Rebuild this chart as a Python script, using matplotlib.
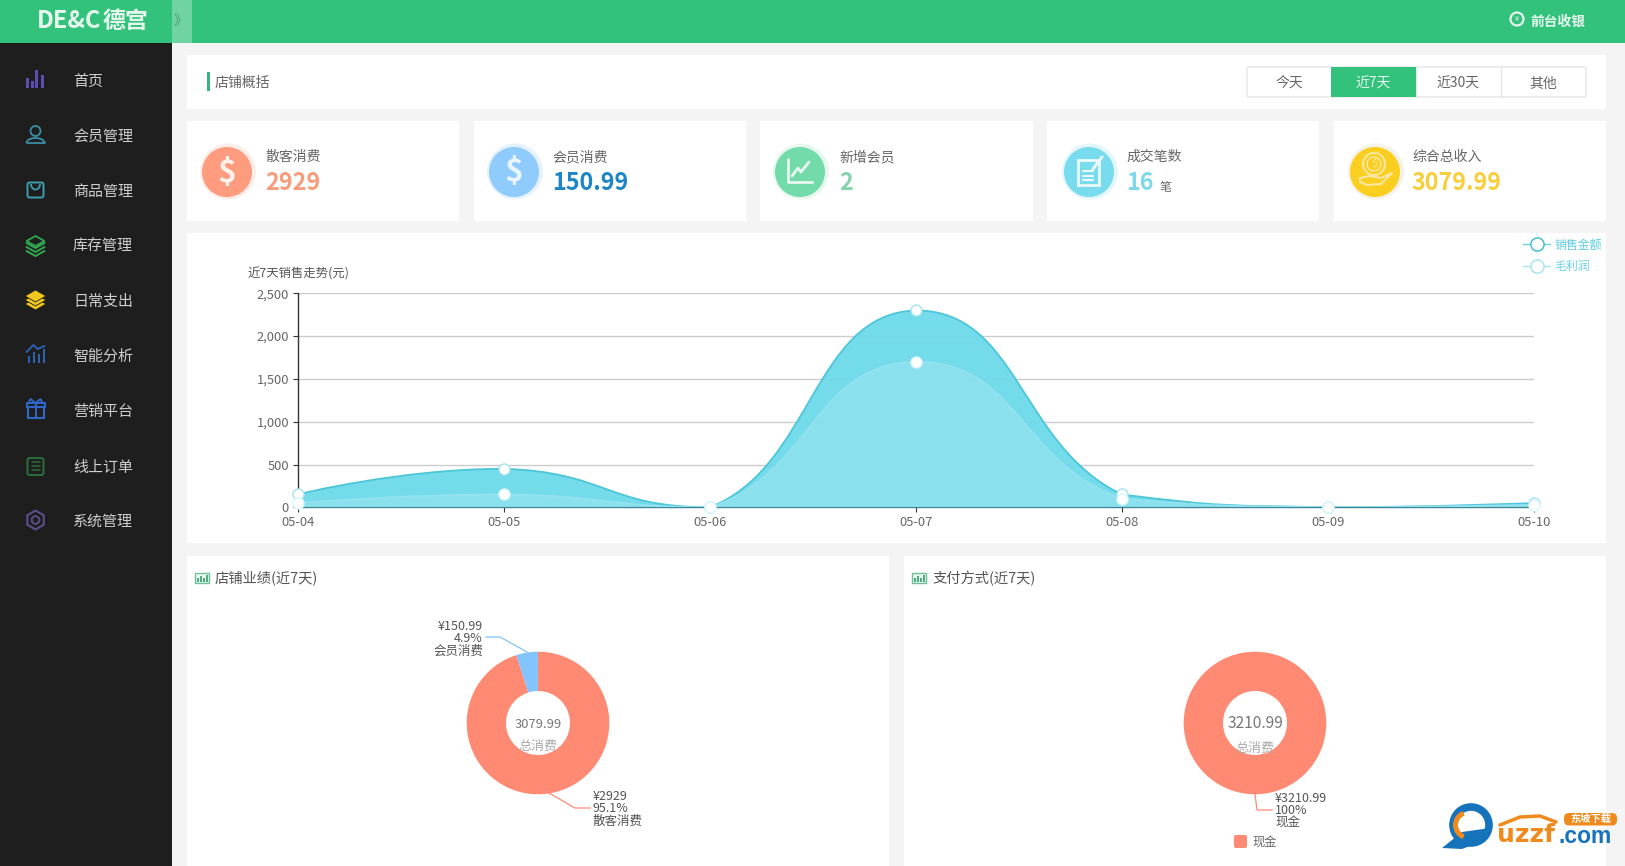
import numpy as np
import matplotlib
matplotlib.use("Agg")
import matplotlib.pyplot as plt
from matplotlib.patches import Rectangle, Circle, FancyBboxPatch, PathPatch, Polygon, Wedge, Arc
from matplotlib.path import Path
from matplotlib.lines import Line2D
from matplotlib.ticker import FuncFormatter

plt.rcParams['font.family'] = ['Noto Sans CJK SC', 'DejaVu Sans']

# ---------- data ----------
dates = ['05-04', '05-05', '05-06', '05-07', '05-08', '05-09', '05-10']
sales = [150, 450, 0, 2300, 150, 0, 50]
profit = [50, 150, 0, 1700, 100, 0, 30]
series_names = ['销售金额', '毛利润']
y_ticks = [0, 500, 1000, 1500, 2000, 2500]

nav_items = ['首页', '会员管理', '商品管理', '库存管理', '日常支出', '智能分析', '营销平台', '线上订单', '系统管理']
period_tabs = ['今天', '近7天', '近30天', '其他']

card_labels = ['散客消费', '会员消费', '新增会员', '成交笔数', '综合总收入']
card_values = ['2929', '150.99', '2', '16', '3079.99']

store_names = ['散客消费', '会员消费']
store_values = [2929, 150.99]
store_pct = ['95.1%', '4.9%']
store_total = '3079.99'

pay_names = ['现金']
pay_values = [3210.99]
pay_pct = ['100%']
pay_total = '3210.99'

# ---------- figure ----------
W, H = 1625, 866
fig = plt.figure(figsize=(W / 100, H / 100), dpi=100, facecolor='#F4F4F4')


def px_axes(l, t, r, b, **kw):
    return fig.add_axes([l / W, 1 - b / H, (r - l) / W, (b - t) / H], **kw)


bg = px_axes(0, 0, W, H, zorder=0)
bg.set_xlim(0, W); bg.set_ylim(H, 0); bg.axis('off')
fg = px_axes(0, 0, W, H, zorder=10)
fg.set_xlim(0, W); fg.set_ylim(H, 0); fg.axis('off'); fg.patch.set_alpha(0)

GREEN = '#32C27B'


def T(x, y, s, size=10, color='#555555', ha='left', va='center', weight='normal', ax=fg, **kw):
    return ax.text(x, y, s, fontsize=size, color=color, ha=ha, va=va, fontweight=weight, **kw)


def R(x0, y0, x1, y1, c, ax=bg, z=1, **kw):
    ax.add_patch(Rectangle((x0, y0), x1 - x0, y1 - y0, facecolor=c, edgecolor='none', zorder=z, **kw))


# chrome
R(0, 0, W, 43, GREEN)
R(0, 43, 172, H, '#1E1E1E')
R(172, 0, 192, 43, '#6FD3A2', z=2)
T(180, 21, '》', size=10, color='#4E9E78', ha='center', ax=bg, zorder=3)
T(37, 21, 'DE&C', size=17, color='#E6F7EE', weight='bold', ax=bg, zorder=3)
T(103, 21, '德宫', size=16.5, color='#E6F7EE', weight='bold', ax=bg, zorder=3)

# header right
bg.add_patch(Circle((1517, 19), 6.5, facecolor='none', edgecolor='#E6F7EE', lw=1.6, zorder=3))
T(1517, 19, '¥', size=5.5, color='#E6F7EE', ha='center', ax=bg, zorder=3)
T(1530, 22, '前台收银', size=9.9, color='#E6F7EE', weight='bold', ax=bg, zorder=3)

# panels
R(187, 55, 1606, 109, 'white')
for x0, x1 in [(187, 459), (474, 746), (760, 1033), (1047, 1319), (1334, 1606)]:
    R(x0, 121, x1, 221, 'white')
R(187, 233, 1606, 543, 'white')
R(187, 556, 889, 866, 'white')
R(904, 556, 1606, 866, 'white')

# overview bar
R(207, 72, 210, 91, '#36B37E', z=2)
T(215, 83, '店铺概括', size=10, color='#666666', ax=bg, zorder=3)

# tabs
tab_x = [1247, 1331, 1416, 1501, 1586]
bg.add_patch(FancyBboxPatch((1247, 67), 339, 30, boxstyle='round,pad=0,rounding_size=2', facecolor='white', edgecolor='#E6E6E6', lw=1, zorder=2))
for i, name in enumerate(period_tabs):
    x0, x1 = tab_x[i], tab_x[i + 1]
    active = i == 1
    if active:
        R(x0, 67, x1, 97, GREEN, z=3)
    elif i > 1:
        bg.plot([x0, x0], [67, 97], color='#E6E6E6', lw=1, zorder=2)
    T((x0 + x1) / 2, 83.5, name, size=10, color='#EAF9F1' if active else '#666666', ha='center', ax=bg, zorder=4)

# sidebar text
nav_y = [82, 137, 192, 247, 302, 357, 412, 468, 522]
for y, name in zip(nav_y, nav_items):
    T(73, y, name, size=10.8, color='#CFCFCF', ax=bg, zorder=3)


def line(pts, c, lw=1.4, ax=bg, z=4):
    xs, ys = zip(*pts)
    ax.plot(xs, ys, color=c, lw=lw, zorder=z, solid_capstyle='round')


# sidebar icons
cx = 35.5
for dx, h in [(-8, 10), (-3, 7), (1, 18), (7, 13)]:
    R(cx + dx - 1.6, 88 - h, cx + dx + 1.6, 88, '#5E4DB2', z=4)
c = '#3A8FA6'
bg.add_patch(Circle((cx, 131), 5, fc='none', ec=c, lw=1.3, zorder=4))
bg.add_patch(Arc((cx, 143), 18, 10, theta1=180, theta2=360, ec=c, lw=1.3, zorder=4))
line([(cx - 9, 143), (cx + 9, 143)], c, 1.3)
c = '#3F9DB0'
bg.add_patch(FancyBboxPatch((cx - 7.5, 183), 15, 14, boxstyle='round,pad=0.5,rounding_size=2', fc='none', ec=c, lw=1.4, zorder=4))
bg.add_patch(Arc((cx, 184), 9, 11, theta1=0, theta2=180, ec=c, lw=1.3, zorder=4))
c = '#2FA84F'
for dy in [0, 4, 8]:
    line([(cx - 9, 243 + dy), (cx, 248 + dy), (cx + 9, 243 + dy)], c, 1.4)
bg.add_patch(Polygon([(cx - 9, 241), (cx, 236), (cx + 9, 241), (cx, 246)], closed=True, fc='none', ec=c, lw=1.3, zorder=4))
c = '#F2C81E'
for dy in [8, 4, 0]:
    bg.add_patch(Polygon([(cx - 10.5, 296 + dy), (cx, 290 + dy), (cx + 10.5, 296 + dy), (cx, 302 + dy)], closed=True, fc=c, ec='#1E1E1E', lw=0.6, zorder=4))
c = '#2C62B0'
for dx, h in [(-7, 7), (-2, 11), (3, 9), (8, 14)]:
    R(cx + dx - 1, 363 - h, cx + dx + 1, 363, c, z=4)
line([(cx - 9, 352), (cx - 2, 345), (cx + 2, 349), (cx + 9, 346)], c, 1.4)
c = '#2F66C4'
bg.add_patch(Rectangle((cx - 8, 407), 16, 11, fc='none', ec=c, lw=1.5, zorder=4))
bg.add_patch(Rectangle((cx - 9, 403), 18, 4, fc='none', ec=c, lw=1.5, zorder=4))
line([(cx, 403), (cx, 418)], c)
line([(cx, 403), (cx - 5, 399), (cx - 7, 403)], c)
line([(cx, 403), (cx + 5, 399), (cx + 7, 403)], c)
c = '#2A6B3A'
bg.add_patch(FancyBboxPatch((cx - 7, 459), 14, 15, boxstyle='round,pad=1,rounding_size=2', fc='none', ec=c, lw=1.5, zorder=4))
for yy in [462, 466, 470]:
    line([(cx - 4, yy), (cx + 4, yy)], c, 1.1)
c = '#5D4C8E'
ang = np.deg2rad(np.arange(0, 360, 60) + 30)
bg.add_patch(Polygon(np.c_[cx + 9.5 * np.cos(ang), 520 + 9.5 * np.sin(ang)], closed=True, fc='none', ec=c, lw=1.5, joinstyle='round', zorder=4))
bg.add_patch(Circle((cx, 520), 3.8, fc='none', ec=c, lw=1.4, zorder=4))

# cards
card_x = [265.5, 552.5, 839.5, 1126.5, 1412]
card_icon = [227, 514, 800, 1089, 1375]
card_fill = ['#FF9B7E', '#8FCBFC', '#72DBA9', '#79DBEE', '#FBCF1F']
card_ring = ['#FBEEE9', '#E6F3FE', '#E8F8F1', '#E3F6FB', '#F3F1E8']
card_num = ['#F89C7C', '#1C86C6', '#84D3AC', '#7FD8EA', '#F9CE3C']
for i in range(5):
    ic = card_icon[i]
    bg.add_patch(Circle((ic + 1, 171.5), 28, fc=card_ring[i], ec='none', zorder=2))
    bg.add_patch(Circle((ic, 172), 25, fc=card_fill[i], ec='none', zorder=3))
    T(card_x[i], 157, card_labels[i], size=10, color='#666666', ax=bg, zorder=3)
    T(card_x[i] - 0.5, 183.5, card_values[i], size=16.8, color=card_num[i], weight='bold', ax=bg, zorder=3)
T(card_x[3] + 33, 187, '笔', size=8.6, color='#666666', ax=bg, zorder=3)
T(card_icon[0], 173, '$', size=23, color='#FFF3EC', ha='center', weight='bold', ax=bg, zorder=5)
T(card_icon[1], 172, '$', size=23, color='#EAF6FF', ha='center', weight='bold', ax=bg, zorder=5)
ic = card_icon[2]
line([(ic - 12, 159), (ic - 12, 182), (ic + 12, 182)], '#E8F9F1', 2)
line([(ic - 8, 176), (ic - 2, 168), (ic + 1, 172), (ic + 9, 162)], '#E8F9F1', 2)
ic = card_icon[3]
bg.add_patch(Rectangle((ic - 11, 160), 21, 25, fc='none', ec='#EAFAFD', lw=2, zorder=5))
for yy, xe in [(171, 4), (176, 4), (180, 4)]:
    line([(ic - 6, yy), (ic + xe, yy)], '#EAFAFD', 1.5, z=5)
line([(ic + 4, 169), (ic + 13, 157)], '#EAFAFD', 2.2, z=5)
ic = card_icon[4]
bg.add_patch(Circle((ic - 1, 164), 11, fc='none', ec='#F7E7A0', lw=1.5, zorder=5))
bg.add_patch(Circle((ic - 1, 164), 7, fc='none', ec='#F7E7A0', lw=1.1, zorder=5))
T(ic - 1, 164, '$', size=8, color='#F7E7A0', ha='center', ax=bg, zorder=5)
line([(ic - 15, 178), (ic - 5, 176), (ic + 6, 178), (ic + 17, 173), (ic + 6, 184), (ic - 8, 185), (ic - 15, 182), (ic - 15, 178)], '#F7E7A0', 1.5, z=5)

# ---------- line chart ----------
ax = px_axes(297.5, 293.3, 1534, 507.3, zorder=5)
ax.patch.set_alpha(0)
x = np.arange(len(dates))


def smooth_path(xs, ys, closed_to=None):
    """echarts style monotone bezier through the data points"""
    xs, ys = list(xs), list(ys)
    n = len(xs)
    verts = [(xs[0], ys[0])]
    codes = [Path.MOVETO]
    for i in range(n - 1):
        prev_y = ys[i - 1] if i > 0 else ys[i]
        next2 = ys[i + 2] if i + 2 < n else ys[i + 1]
        c1 = ys[i] + (ys[i + 1] - prev_y) * 0.25 if i > 0 else ys[i]
        c2 = ys[i + 1] - (next2 - ys[i]) * 0.25 if i + 2 < n else ys[i + 1]
        lo, hi = min(ys[i], ys[i + 1]), max(ys[i], ys[i + 1])
        c1, c2 = np.clip(c1, lo, hi), np.clip(c2, lo, hi)
        dx0 = 0.5 if i > 0 else 0
        dx1 = 0.5 if i + 2 < n else 0
        verts += [(xs[i] + dx0, c1), (xs[i + 1] - dx1, c2), (xs[i + 1], ys[i + 1])]
        codes += [Path.CURVE4] * 3
    if closed_to is not None:
        verts += [(xs[-1], closed_to), (xs[0], closed_to), (xs[0], ys[0])]
        codes += [Path.LINETO, Path.LINETO, Path.LINETO]
    return Path(verts, codes)


ax.set_xlim(0, len(dates) - 1)
ax.set_ylim(0, 2500)
ax.set_yticks(y_ticks)
ax.set_xticks(x)
ax.set_xticklabels(dates)
ax.yaxis.set_major_formatter(FuncFormatter(lambda v, _: f'{int(v):,}'))
ax.tick_params(axis='both', labelsize=9.3, labelcolor='#666666', color='#333333', length=3.6, width=0.8, pad=2.5)
ax.grid(axis='y', color='#CCCCCC', lw=1)
ax.set_axisbelow(True)
for s in ['top', 'right']:
    ax.spines[s].set_visible(False)
ax.spines['left'].set_color('#333333')
ax.spines['left'].set_linewidth(1)
ax.spines['bottom'].set_color('#3F8796')
ax.spines['bottom'].set_linewidth(1)

ax.add_patch(PathPatch(smooth_path(x, sales, 0), fc='#6DD9E9', ec='none', alpha=0.95, zorder=2))
ax.add_patch(PathPatch(smooth_path(x, sales), fc='none', ec='#4CC6D8', lw=1.3, zorder=3))
ax.add_patch(PathPatch(smooth_path(x, profit, 0), fc='#A0E6F1', ec='none', alpha=0.52, zorder=4))
ax.add_patch(PathPatch(smooth_path(x, profit), fc='none', ec='#93E2EF', lw=1.3, zorder=5))
ax.plot(x, sales, ls='none', marker='o', ms=8, mfc='white', mec='#A5E3EC', mew=1, clip_on=False, zorder=6)
ax.plot(x, profit, ls='none', marker='o', ms=8, mfc='white', mec='#D8F5F9', mew=1, clip_on=False, zorder=7)

T(247, 274, '近7天销售走势(元)', size=8.9, color='#555555')

handles = [Line2D([], [], color='#6FD0DF', lw=1, marker='o', ms=9.5, mfc='white', mec='#45BFD0', mew=1.1),
           Line2D([], [], color='#A9E5EE', lw=1, marker='o', ms=9.5, mfc='white', mec='#A9E5EE', mew=1.1)]
leg = ax.legend(handles, series_names, loc='upper left', bbox_to_anchor=(1521, 236), bbox_transform=fg.transData,
                frameon=False, fontsize=8.6, labelcolor=['#5CCFE4', '#6AD3E6'], handlelength=2.2, handletextpad=0.4,
                labelspacing=0.75, borderpad=0.2, borderaxespad=0)
leg.set_zorder(20)

# ---------- donuts ----------
def donut(cxp, cyp, values, colors, start=90):
    r = 71.3
    a = px_axes(cxp - r, cyp - r, cxp + r, cyp + r, zorder=6)
    a.pie(values, colors=colors, startangle=start, counterclock=False, radius=1,
          wedgeprops=dict(width=1 - 32 / 71.3, edgecolor='none'))
    a.set_xlim(-1, 1); a.set_ylim(-1, 1)
    return a


ORANGE = '#FF8A73'
BLUE = '#82C4FB'
donut(538, 723, store_values, [ORANGE, BLUE])
donut(1255, 723, pay_values, [ORANGE])

for xc, title in [(187, '店铺业绩(近7天)'), (904, '支付方式(近7天)')]:
    x0 = xc + 8
    bg.add_patch(Rectangle((x0, 573), 14, 10, fc='#EAF7F0', ec='#6FBF97', lw=1, zorder=3))
    for dx, h in [(3, 4), (6, 6), (9, 4), (12, 7)]:
        R(x0 + dx - 0.8, 582 - h, x0 + dx + 0.8, 582, '#4FAE80', z=4)
    T(xc + 28, 578, title, size=10.3, color='#555555', ax=bg, zorder=3)

# centres
T(538, 724, store_total, size=9.4, color='#777777', ha='center')
T(538, 746.5, '总消费', size=9.4, color='#AAAAAA', ha='center')
T(1255, 724, pay_total, size=11.2, color='#777777', ha='center')
T(1255, 748, '总消费', size=9.4, color='#AAAAAA', ha='center')

# pie labels
lab = '#555555'
fg.plot([486, 500, 527], [637, 637, 652], color=BLUE, lw=0.9)
for y, s in zip([627, 639, 651], [f'¥{store_values[1]}', store_pct[1], store_names[1]]):
    T(483, y, s, size=9, color=lab, ha='right')
fg.plot([549, 575, 590], [793, 808, 808], color=ORANGE, lw=0.9)
for y, s in zip([797, 809, 821], [f'¥{store_values[0]}', store_pct[0], store_names[0]]):
    T(592.5, y, s, size=9, color=lab)
fg.plot([1255, 1257, 1272], [794, 810, 810], color=ORANGE, lw=0.9)
for y, s in zip([799, 811, 823], [f'¥{pay_values[0]}', pay_pct[0], pay_names[0]]):
    T(1275, y, s, size=9, color=lab)
fg.add_patch(FancyBboxPatch((1235, 836), 11, 11, boxstyle='round,pad=1,rounding_size=2', fc=ORANGE, ec='none'))
T(1252, 842, pay_names[0], size=8.8, color='#666666')

# watermark
fg.add_patch(Circle((1471, 825), 18, fc='none', ec='#1573BC', lw=5.5))
fg.add_patch(Polygon([(1442, 848), (1462, 832), (1490, 828), (1478, 843), (1462, 849)], closed=True, fc='#1573BC', ec='none'))
fg.add_patch(Wedge((1468, 825), 15, 110, 250, width=5, fc='#F08A1D', ec='none'))
fg.plot([1500, 1520, 1540, 1556], [825, 817, 816, 822], color='#F08A1D', lw=2.5, solid_capstyle='round')
fg.text(1497, 842, 'uzzf', fontsize=18, color='#F08A1D', fontweight='bold', va='baseline', family='DejaVu Sans')
fg.text(1559, 843, '.com', fontsize=16.5, color='#1573BC', fontweight='bold', va='baseline', family='Liberation Sans')
fg.add_patch(FancyBboxPatch((1566, 815), 49, 8.5, boxstyle='round,pad=2,rounding_size=5', fc='#F08A1D', ec='none'))
T(1590.5, 819, '东坡下载', size=7.4, color='white', ha='center', weight='bold')

fig.savefig('out.png', dpi=100, facecolor=fig.get_facecolor())
